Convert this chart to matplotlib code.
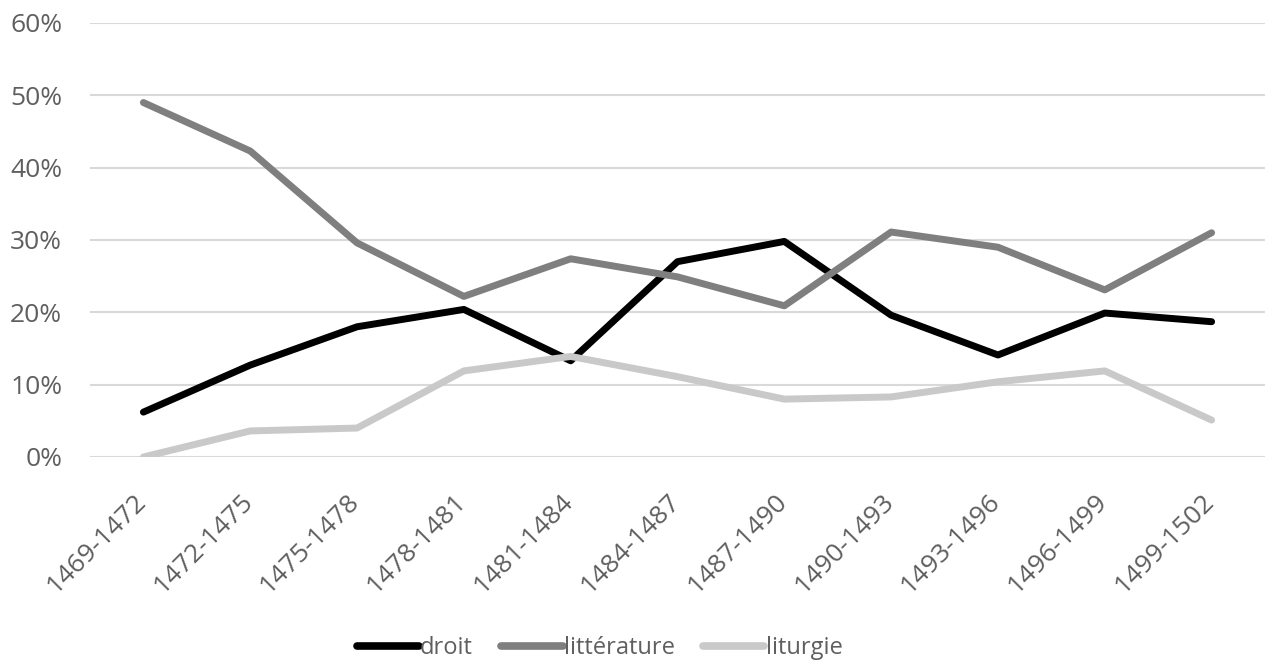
import matplotlib.pyplot as plt
import matplotlib.transforms as mtransforms
from matplotlib.ticker import PercentFormatter

periods = ["1469-1472", "1472-1475", "1475-1478", "1478-1481", "1481-1484", "1484-1487",
           "1487-1490", "1490-1493", "1493-1496", "1496-1499", "1499-1502"]
droit = [6.2, 12.7, 18.0, 20.4, 13.3, 27.0, 29.8, 19.6, 14.1, 19.9, 18.7]
litterature = [49.0, 42.3, 29.6, 22.2, 27.4, 24.9, 20.9, 31.1, 29.0, 23.1, 31.0]
liturgie = [0.0, 3.6, 4.0, 11.9, 13.9, 11.1, 8.0, 8.3, 10.4, 11.9, 5.1]

text_col = "#5f5f5f"
plt.rcParams['font.family'] = ['Open Sans', 'DejaVu Sans']

fig = plt.figure(figsize=(12.71, 6.68), dpi=100)
ax = fig.add_axes([0.0708, 0.3159, 0.9245, 0.6497])

x = range(len(periods))
ax.plot(x, droit, color="#000000", lw=5, solid_capstyle="round", label="droit", zorder=3)
ax.plot(x, litterature, color="#7f7f7f", lw=5, solid_capstyle="round", label="littérature", zorder=3)
ax.plot(x, liturgie, color="#c9c9c9", lw=5, solid_capstyle="round", label="liturgie", zorder=3)

ax.set_xlim(-0.5, len(periods) - 0.5)
ax.set_ylim(0, 60)
ax.set_yticks(range(0, 61, 10))
ax.yaxis.set_major_formatter(PercentFormatter(decimals=0))
ax.grid(axis="y", color="#d9d9d9", lw=1.5)
ax.set_axisbelow(True)
for s in ax.spines.values():
    s.set_visible(False)
ax.tick_params(axis="both", length=0, colors=text_col, labelsize=19)
ax.tick_params(axis="y", pad=20)

ax.set_xticks(list(x))
ax.set_xticklabels(periods, rotation=45, ha="right", va="top", rotation_mode="anchor")
ax.tick_params(axis="x", pad=23)
shift = mtransforms.ScaledTranslation(-10 / 100, 0, fig.dpi_scale_trans)
for lbl in ax.get_xticklabels():
    lbl.set_transform(lbl.get_transform() + shift)

leg = fig.legend(loc="center", bbox_to_anchor=(0.472, 0.03), ncol=3, frameon=False,
                 fontsize=17, handlelength=2.6, handletextpad=0.05, columnspacing=1.2)
for t in leg.get_texts():
    t.set_color(text_col)
for h in leg.get_lines():
    h.set_linewidth(5.5)

fig.savefig("out.png", dpi=100)
